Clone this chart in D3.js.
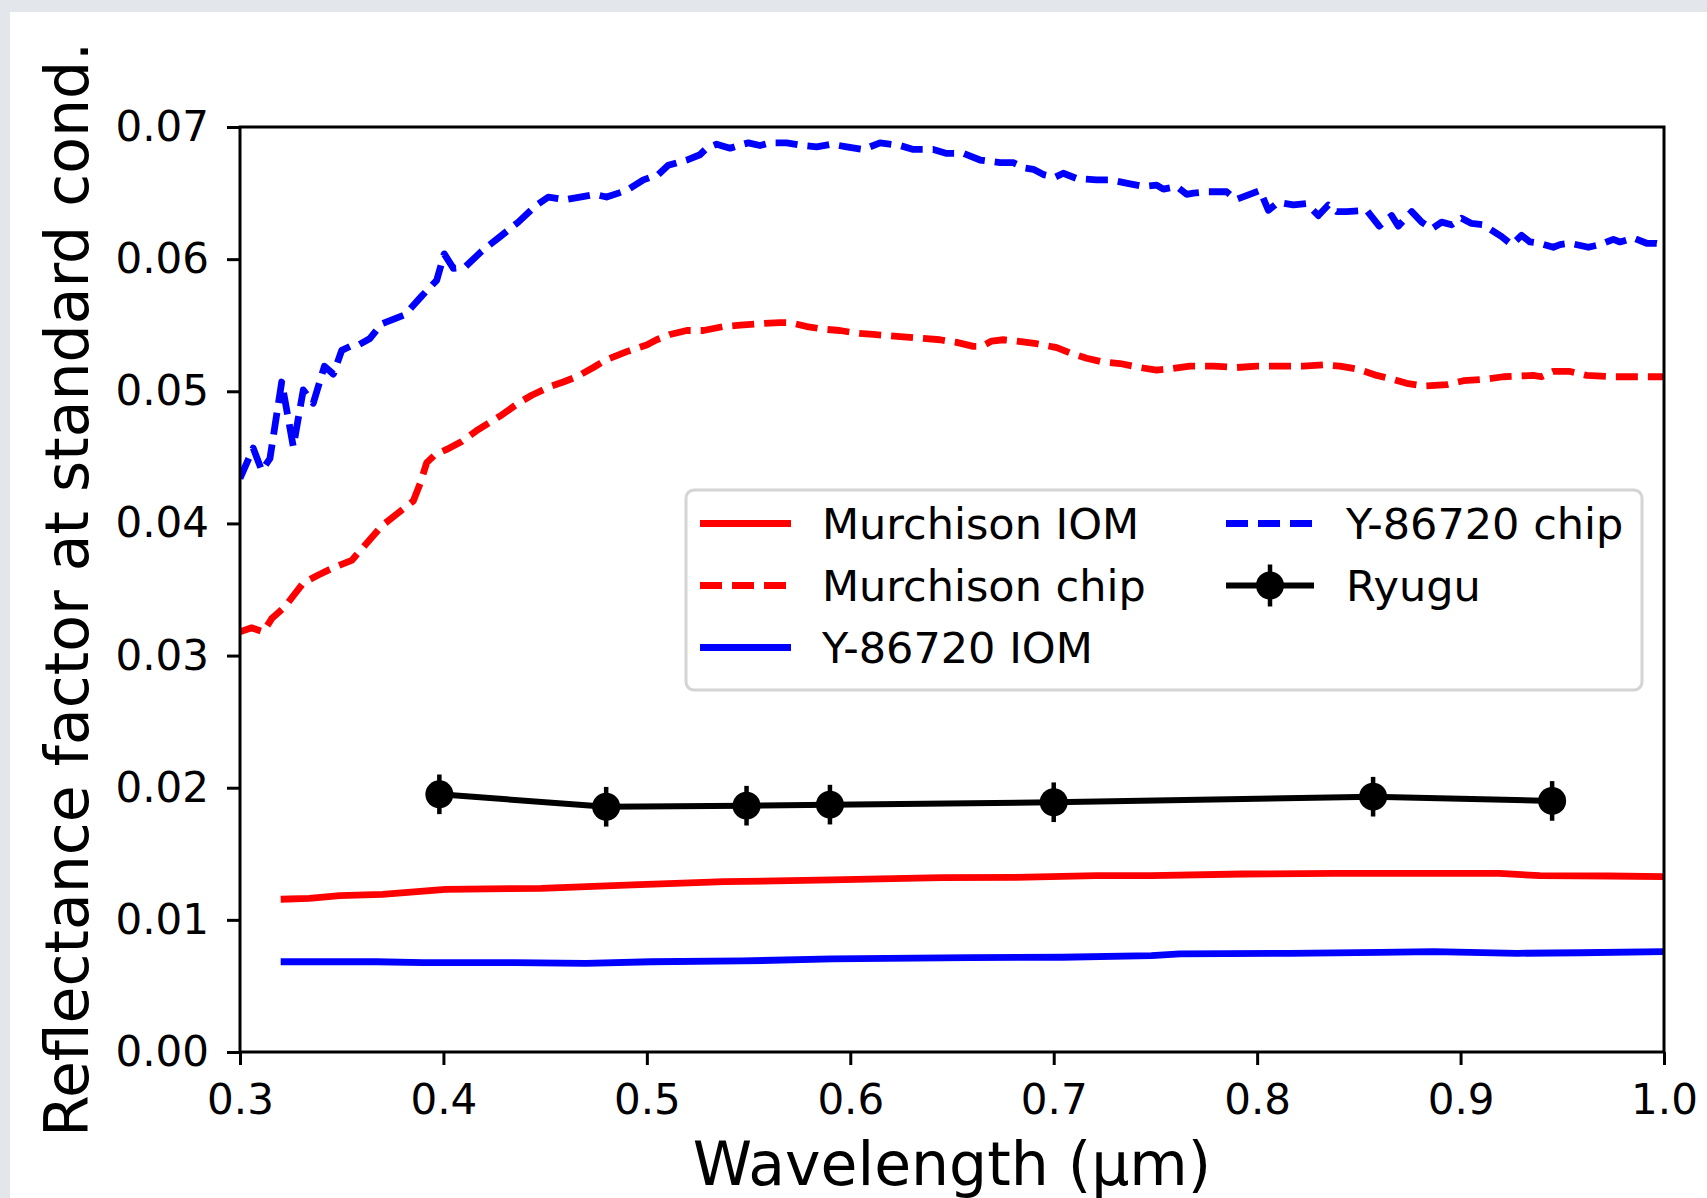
<!DOCTYPE html>
<html>
<head>
<meta charset="utf-8">
<script src="https://cdn.jsdelivr.net/npm/d3@7"></script>
<style>
  body { margin: 0; background: #ffffff; }
  svg { display: block; }
  text { font-family: "DejaVu Sans", "Liberation Sans", sans-serif; fill: #000; }
</style>
</head>
<body>
<svg id="chart" width="1707" height="1198"></svg>
<script>
// ---- data: wavelength (µm), reflectance factor ----
const xTicks = [0.3, 0.4, 0.5, 0.6, 0.7, 0.8, 0.9, 1.0];
const yTicks = [0.00, 0.01, 0.02, 0.03, 0.04, 0.05, 0.06, 0.07];

const murchisonIOM = [
  [0.320, 0.01156], [0.334, 0.01163], [0.349, 0.01183], [0.370, 0.01193],
  [0.401, 0.01231], [0.448, 0.01239], [0.493, 0.01264], [0.538, 0.01289],
  [0.591, 0.01302], [0.645, 0.01319], [0.681, 0.01322], [0.721, 0.01334],
  [0.748, 0.01334], [0.793, 0.01347], [0.838, 0.01352], [0.883, 0.01352],
  [0.919, 0.01352], [0.939, 0.01334], [0.973, 0.01332], [1.000, 0.01327]
];

const murchisonChip = [
  [0.300, 0.0318], [0.3057, 0.0321], [0.3115, 0.0318], [0.3156, 0.0328],
  [0.3221, 0.0337], [0.3311, 0.0355], [0.3385, 0.0361], [0.3467, 0.0367],
  [0.3549, 0.0372], [0.3606, 0.0382], [0.3696, 0.0398], [0.3778, 0.0408],
  [0.3852, 0.0417], [0.3885, 0.0430], [0.3918, 0.0446], [0.3959, 0.0452],
  [0.4016, 0.0456], [0.4090, 0.0462], [0.4171, 0.0471], [0.4286, 0.0482],
  [0.4368, 0.0491], [0.4434, 0.0497], [0.4532, 0.0504], [0.4589, 0.0507],
  [0.4655, 0.0511], [0.4737, 0.0518], [0.4802, 0.0524], [0.4901, 0.0530],
  [0.4999, 0.0535], [0.5048, 0.0539], [0.5114, 0.0543], [0.5196, 0.0546],
  [0.5278, 0.0546], [0.5376, 0.0549], [0.5458, 0.0550], [0.5540, 0.0551],
  [0.5654, 0.0552], [0.5704, 0.0552], [0.5786, 0.0549], [0.5867, 0.0547],
  [0.5949, 0.0546], [0.6031, 0.0544], [0.6113, 0.0543], [0.6195, 0.0542],
  [0.6277, 0.0541], [0.6359, 0.0540], [0.6441, 0.0539], [0.6523, 0.0537],
  [0.6605, 0.0534], [0.6646, 0.0534], [0.6695, 0.0538], [0.6752, 0.0539],
  [0.6818, 0.0538], [0.6916, 0.0536], [0.7015, 0.0533], [0.7080, 0.0529],
  [0.7162, 0.0525], [0.7244, 0.0522], [0.7326, 0.0521], [0.7424, 0.0518],
  [0.7506, 0.0516], [0.7572, 0.0517], [0.7670, 0.0519], [0.7785, 0.0519],
  [0.7900, 0.0518], [0.7998, 0.0519], [0.8112, 0.0519], [0.8227, 0.0519],
  [0.8325, 0.0520], [0.8407, 0.0519], [0.8489, 0.0517], [0.8588, 0.0512],
  [0.8670, 0.0509], [0.8735, 0.0506], [0.8817, 0.0504], [0.8932, 0.0505],
  [0.9014, 0.0508], [0.9112, 0.0509], [0.9210, 0.0511], [0.9357, 0.0512],
  [0.9398, 0.0511], [0.9455, 0.0515], [0.9538, 0.0515], [0.9620, 0.0512],
  [0.9751, 0.0511], [0.9882, 0.0511], [1.000, 0.0511]
];

const y86720IOM = [
  [0.320, 0.00683], [0.367, 0.00683], [0.390, 0.00676], [0.435, 0.00676],
  [0.470, 0.00671], [0.502, 0.00683], [0.547, 0.00689], [0.591, 0.00704],
  [0.659, 0.00714], [0.704, 0.00717], [0.748, 0.00729], [0.762, 0.00742],
  [0.816, 0.00747], [0.860, 0.00754], [0.887, 0.00759], [0.928, 0.00747],
  [0.959, 0.00751], [1.000, 0.00759]
];

const y86720Chip = [
  [0.300, 0.0434], [0.3065, 0.0457], [0.3107, 0.0440], [0.3147, 0.0449],
  [0.3205, 0.0507], [0.3262, 0.0458], [0.3311, 0.0501], [0.3360, 0.0491],
  [0.3415, 0.0519], [0.3459, 0.0513], [0.3500, 0.0531], [0.3541, 0.0534],
  [0.3582, 0.0535], [0.3639, 0.0540], [0.3696, 0.0551], [0.3762, 0.0555],
  [0.3811, 0.0558], [0.3893, 0.0572], [0.3967, 0.0584], [0.4004, 0.0604],
  [0.4049, 0.0593], [0.4106, 0.0594], [0.4188, 0.0606], [0.4270, 0.0616],
  [0.4368, 0.0628], [0.4450, 0.0640], [0.4516, 0.0647], [0.4598, 0.0645],
  [0.4671, 0.0647], [0.4745, 0.0649], [0.4802, 0.0647], [0.4901, 0.0652],
  [0.4983, 0.0660], [0.5056, 0.0664], [0.5105, 0.0671], [0.5196, 0.0675],
  [0.5261, 0.0679], [0.5294, 0.0684], [0.5343, 0.0687], [0.5409, 0.0684],
  [0.5450, 0.0686], [0.5499, 0.0688], [0.5556, 0.0686], [0.5605, 0.0688],
  [0.5687, 0.0688], [0.5769, 0.0686], [0.5835, 0.0685], [0.5908, 0.0687],
  [0.5982, 0.0685], [0.6064, 0.0683], [0.6146, 0.0688], [0.6244, 0.0686],
  [0.6310, 0.0683], [0.6408, 0.0683], [0.6474, 0.0680], [0.6556, 0.0680],
  [0.6638, 0.0675], [0.6736, 0.0673], [0.6801, 0.0673], [0.6859, 0.0669],
  [0.6900, 0.0668], [0.6949, 0.0664], [0.7006, 0.0662], [0.7047, 0.0665],
  [0.7113, 0.0661], [0.7211, 0.0660], [0.7277, 0.0660], [0.7375, 0.0657],
  [0.7441, 0.0655], [0.7506, 0.0656], [0.7539, 0.0653], [0.7605, 0.0655],
  [0.7654, 0.0649], [0.7687, 0.0650], [0.7752, 0.0651], [0.7850, 0.0651],
  [0.7895, 0.0645], [0.8014, 0.0652], [0.8055, 0.0637], [0.8104, 0.0643],
  [0.8178, 0.0641], [0.8243, 0.0642], [0.8301, 0.0633], [0.8350, 0.0641],
  [0.8391, 0.0636], [0.8440, 0.0636], [0.8538, 0.0637], [0.8600, 0.0625],
  [0.8661, 0.0633], [0.8694, 0.0625], [0.8760, 0.0636], [0.8809, 0.0628],
  [0.8858, 0.0623], [0.8907, 0.0628], [0.8956, 0.0626], [0.9005, 0.0631],
  [0.9054, 0.0627], [0.9112, 0.0626], [0.9202, 0.0617], [0.9251, 0.0611],
  [0.9300, 0.0618], [0.9341, 0.0613], [0.9390, 0.0612], [0.9456, 0.0609],
  [0.9489, 0.0611], [0.9538, 0.0612], [0.9628, 0.0609], [0.9686, 0.0611],
  [0.9751, 0.0615], [0.9784, 0.0613], [0.9849, 0.0616], [0.9915, 0.0612],
  [0.9964, 0.0612], [1.000, 0.0611]
];

// Ryugu (ONC-T bands): wavelength, reflectance, 1-sigma error
const ryuguWave = [0.398, 0.480, 0.549, 0.590, 0.700, 0.857, 0.945];
const ryuguRefl = [0.0195, 0.01856, 0.01864, 0.01872, 0.0189, 0.01932, 0.0190];
const ryuguErr  = [0.0015, 0.0015, 0.0015, 0.0015, 0.0015, 0.0015, 0.0015];

const legendLabels = ["Murchison IOM", "Murchison chip", "Y-86720 IOM", "Y-86720 chip", "Ryugu"];

// ---- layout ----
const W = 1707, H = 1198;
const plot = { left: 240, right: 1664, top: 127, bottom: 1052 };
const LW = 6.8;
const DASH = "22,10";

const svg = d3.select("#chart");

// page frame
svg.append("rect").attr("x", 0).attr("y", 0).attr("width", W).attr("height", H).attr("fill", "#e3e6eb");
svg.append("rect").attr("x", 10).attr("y", 12).attr("width", W - 10).attr("height", H - 12).attr("fill", "#ffffff");

const x = d3.scaleLinear().domain([0.3, 1.0]).range([plot.left, plot.right]);
const y = d3.scaleLinear().domain([0, 0.07]).range([plot.bottom, plot.top]);

svg.append("defs").append("clipPath").attr("id", "plotclip")
  .append("rect")
  .attr("x", plot.left).attr("y", plot.top)
  .attr("width", plot.right - plot.left).attr("height", plot.bottom - plot.top);

const line = d3.line().x(d => x(d[0])).y(d => y(d[1]));

const series = [
  { data: murchisonIOM,  color: "#ff0000", dash: null },
  { data: murchisonChip, color: "#ff0000", dash: DASH },
  { data: y86720IOM,     color: "#0000ff", dash: null },
  { data: y86720Chip,    color: "#0000ff", dash: DASH }
];

const gLines = svg.append("g").attr("clip-path", "url(#plotclip)");
series.forEach(s => {
  gLines.append("path")
    .datum(s.data)
    .attr("d", line)
    .attr("fill", "none")
    .attr("stroke", s.color)
    .attr("stroke-width", LW)
    .attr("stroke-linejoin", "round")
    .attr("stroke-linecap", "butt")
    .attr("stroke-dasharray", s.dash);
});

// Ryugu: connecting line, error bars, markers
const ryugu = ryuguWave.map((w, i) => ({ w, r: ryuguRefl[i], e: ryuguErr[i] }));
gLines.append("path")
  .datum(ryugu)
  .attr("d", d3.line().x(d => x(d.w)).y(d => y(d.r)))
  .attr("fill", "none").attr("stroke", "#000").attr("stroke-width", 6)
  .attr("stroke-linejoin", "round");
gLines.selectAll(".err").data(ryugu).join("line")
  .attr("x1", d => x(d.w)).attr("x2", d => x(d.w))
  .attr("y1", d => y(d.r - d.e)).attr("y2", d => y(d.r + d.e))
  .attr("stroke", "#000").attr("stroke-width", 4.5);
gLines.selectAll(".mk").data(ryugu).join("circle")
  .attr("cx", d => x(d.w)).attr("cy", d => y(d.r)).attr("r", 14)
  .attr("fill", "#000");

// ---- axes ----
const xAxis = d3.axisBottom(x).tickValues(xTicks).tickFormat(d3.format(".1f"))
  .tickSizeInner(13).tickSizeOuter(0).tickPadding(19);
const yAxis = d3.axisLeft(y).tickValues(yTicks).tickFormat(d3.format(".2f"))
  .tickSizeInner(13).tickSizeOuter(0).tickPadding(18);

const gx = svg.append("g").attr("transform", `translate(0,${plot.bottom})`).call(xAxis);
const gy = svg.append("g").attr("transform", `translate(${plot.left},0)`).call(yAxis);
[gx, gy].forEach(g => {
  g.select(".domain").remove();
  g.selectAll(".tick line").attr("stroke", "#000").attr("stroke-width", 3);
  g.selectAll(".tick text").attr("font-size", 42).attr("fill", "#000")
    .style("font-family", "'DejaVu Sans', sans-serif");
});

// spines
svg.append("rect")
  .attr("x", plot.left).attr("y", plot.top)
  .attr("width", plot.right - plot.left).attr("height", plot.bottom - plot.top)
  .attr("fill", "none").attr("stroke", "#000").attr("stroke-width", 3);

// axis titles
svg.append("text")
  .attr("x", (plot.left + plot.right) / 2).attr("y", 1185)
  .attr("text-anchor", "middle").attr("font-size", 60)
  .text("Wavelength (µm)");
svg.append("text")
  .attr("transform", `translate(88,${(plot.top + plot.bottom) / 2}) rotate(-90)`)
  .attr("text-anchor", "middle").attr("font-size", 60)
  .text("Reflectance factor at standard cond.");

// ---- legend ----
const lg = svg.append("g");
lg.append("rect")
  .attr("x", 686).attr("y", 490).attr("width", 956).attr("height", 200).attr("rx", 8)
  .attr("fill", "#ffffff").attr("fill-opacity", 0.8)
  .attr("stroke", "#d4d4d4").attr("stroke-width", 3);

const rowsY = [539, 601, 663];
const cols = [
  { hx0: 700, hx1: 791, tx: 822 },
  { hx0: 1226, hx1: 1314, tx: 1346 }
];
const legendItems = [
  { label: legendLabels[0], col: 0, row: 0, color: "#ff0000", dash: null },
  { label: legendLabels[1], col: 0, row: 1, color: "#ff0000", dash: DASH },
  { label: legendLabels[2], col: 0, row: 2, color: "#0000ff", dash: null },
  { label: legendLabels[3], col: 1, row: 0, color: "#0000ff", dash: DASH },
  { label: legendLabels[4], col: 1, row: 1, color: "#000000", dash: null, marker: true }
];
legendItems.forEach(it => {
  const c = cols[it.col];
  const by = rowsY[it.row];
  const hy = by - 15.5;
  lg.append("line")
    .attr("x1", c.hx0).attr("x2", c.hx1).attr("y1", hy).attr("y2", hy)
    .attr("stroke", it.color).attr("stroke-width", it.marker ? 6 : LW)
    .attr("stroke-dasharray", it.dash);
  if (it.marker) {
    const cx = (c.hx0 + c.hx1) / 2;
    lg.append("line").attr("x1", cx).attr("x2", cx).attr("y1", hy - 21).attr("y2", hy + 21)
      .attr("stroke", "#000").attr("stroke-width", 4.5);
    lg.append("circle").attr("cx", cx).attr("cy", hy).attr("r", 14).attr("fill", "#000");
  }
  lg.append("text").attr("x", c.tx).attr("y", by).attr("font-size", 43).text(it.label);
});
</script>
</body>
</html>
